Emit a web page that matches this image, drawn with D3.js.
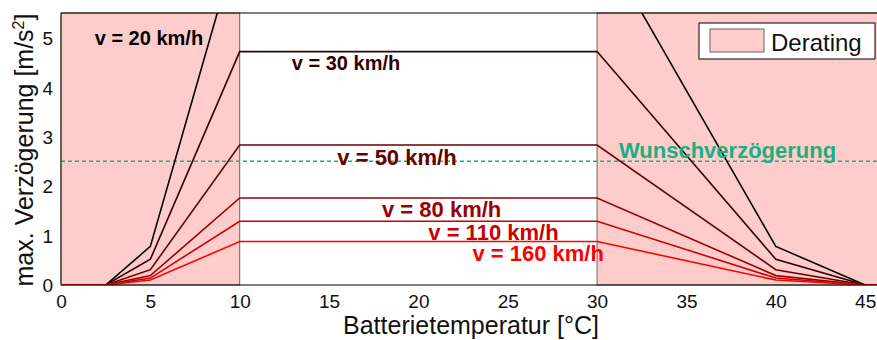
<!DOCTYPE html>
<html>
<head>
<meta charset="utf-8">
<script src="https://d3js.org/d3.v7.min.js"></script>
<style>
  body { margin: 0; background: #fff; }
  svg { display: block; font-family: "Liberation Sans", Arial, sans-serif; }
</style>
</head>
<body>
<div class="container"></div>
<script>
// battery temperature points (°C) where the curves bend
var temps = [0, 2.5, 5, 10, 30, 40, 45, 50];

// max. deceleration per speed
var speeds = ["v = 20 km/h", "v = 30 km/h", "v = 50 km/h", "v = 80 km/h", "v = 110 km/h", "v = 160 km/h"];
var dec20  = [0, 0, 0.78, 7.08, 7.08, 0.78, 0, 0];
var dec30  = [0, 0, 0.52, 4.72, 4.72, 0.52, 0, 0];
var dec50  = [0, 0, 0.31, 2.83, 2.83, 0.31, 0, 0];
var dec80  = [0, 0, 0.19, 1.76, 1.76, 0.19, 0, 0];
var dec110 = [0, 0, 0.14, 1.29, 1.29, 0.14, 0, 0];
var dec160 = [0, 0, 0.10, 0.88, 0.88, 0.10, 0, 0];
var series = [dec20, dec30, dec50, dec80, dec110, dec160];
var colors = ["#000000", "#330000", "#660000", "#990000", "#cc0000", "#ff0000"];

var wunsch = 2.5;                       // target deceleration
var derating = [[0, 10], [30, 46]];     // temperature bands with derating
var xTicks = [0, 5, 10, 15, 20, 25, 30, 35, 40, 45];
var yTicks = [0, 1, 2, 3, 4, 5];

// where the curve labels sit, in data units, and their size
var labelPos = [[4.92, 4.85], [15.95, 4.34], [18.8, 2.42], [21.3, 1.37], [24.2, 0.91], [26.7, 0.485]];
var labelSize = [20, 20, 22, 22, 22, 22];

var W = 877, H = 340;
var mLeft = 61, mTop = 13, mBottom = 285;

var x = d3.scaleLinear().domain([0, 46]).range([mLeft, mLeft + 17.87 * 46]);
var y = d3.scaleLinear().domain([0, 5.5]).range([mBottom, mTop]);

var svg = d3.select(".container").append("svg")
  .attr("width", W)
  .attr("height", H);

svg.append("clipPath").attr("id", "plotclip")
  .append("rect")
  .attr("x", mLeft).attr("y", mTop)
  .attr("width", x(46) - mLeft).attr("height", mBottom - mTop);

// derating bands
svg.selectAll("rect.band")
  .data(derating)
  .enter().append("rect")
  .attr("class", "band")
  .attr("x", function(d) { return x(d[0]); })
  .attr("y", y(5.5))
  .attr("width", function(d) { return x(d[1]) - x(d[0]); })
  .attr("height", y(0) - y(5.5))
  .style("fill", "#ffcccc")
  .style("stroke", "#666")
  .style("stroke-width", 1);

var plot = svg.append("g").attr("clip-path", "url(#plotclip)");

// desired deceleration
plot.append("line")
  .attr("x1", x(0)).attr("x2", x(46))
  .attr("y1", y(wunsch)).attr("y2", y(wunsch))
  .style("stroke", "#18b080")
  .style("stroke-width", 1.5)
  .style("stroke-dasharray", "4,3");

var line = d3.line()
  .x(function(d) { return x(d[0]); })
  .y(function(d) { return y(d[1]); });

series.forEach(function(vals, i) {
  plot.append("path")
    .datum(temps.map(function(t, j) { return [t, vals[j]]; }))
    .attr("d", line)
    .style("fill", "none")
    .style("stroke", colors[i])
    .style("stroke-width", 1.6)
    .style("stroke-linejoin", "miter");
});

// axes box: top and bottom lines, left edge
svg.append("line")
  .attr("x1", mLeft).attr("x2", W).attr("y1", mTop).attr("y2", mTop)
  .style("stroke", "#000").style("stroke-width", 1.2);
svg.append("line")
  .attr("x1", mLeft).attr("x2", W).attr("y1", mBottom).attr("y2", mBottom)
  .style("stroke", "#000").style("stroke-width", 1.2);
svg.append("line")
  .attr("x1", mLeft).attr("x2", mLeft).attr("y1", mTop).attr("y2", mBottom)
  .style("stroke", "#333").style("stroke-width", 1.2);

// tick labels (no tick marks in the original)
var xAxis = d3.axisBottom(x).tickValues(xTicks).tickFormat(d3.format("d")).tickSize(0).tickPadding(0);
var gx = svg.append("g").attr("transform", "translate(0," + mBottom + ")").call(xAxis);
gx.select(".domain").remove();
gx.selectAll("text")
  .attr("dy", null).attr("y", 23)
  .style("font-size", "19px").style("font-family", "Liberation Sans, Arial, sans-serif")
  .style("fill", "#111");

var yAxis = d3.axisLeft(y).tickValues(yTicks).tickFormat(d3.format("d")).tickSize(0).tickPadding(8);
var gy = svg.append("g").attr("transform", "translate(" + mLeft + ",0)").call(yAxis);
gy.select(".domain").remove();
gy.selectAll("text")
  .attr("dy", "0.36em")
  .style("font-size", "19px").style("font-family", "Liberation Sans, Arial, sans-serif")
  .style("fill", "#111");

// axis titles
svg.append("text")
  .attr("x", 471)
  .attr("y", 334)
  .attr("text-anchor", "middle")
  .style("font-size", "25px")
  .style("fill", "#111")
  .text("Batterietemperatur [°C]");

var yl = svg.append("text")
  .attr("transform", "translate(33,150) rotate(-90)")
  .attr("text-anchor", "middle")
  .style("font-size", "25px")
  .style("fill", "#111");
yl.append("tspan").text("max. Verzögerung [m/s");
yl.append("tspan").attr("dy", -9).style("font-size", "16px").text("2");
yl.append("tspan").attr("dy", 9).text("]");

// curve labels
svg.selectAll("text.vlab")
  .data(speeds)
  .enter().append("text")
  .attr("class", "vlab")
  .attr("x", function(d, i) { return x(labelPos[i][0]); })
  .attr("y", function(d, i) { return y(labelPos[i][1]); })
  .attr("text-anchor", "middle")
  .style("font-size", function(d, i) { return labelSize[i] + "px"; })
  .style("font-weight", "bold")
  .style("fill", function(d, i) { return colors[i]; })
  .text(function(d) { return d; });

svg.append("text")
  .attr("x", x(37.3))
  .attr("y", y(2.57))
  .attr("text-anchor", "middle")
  .style("font-size", "22px")
  .style("font-weight", "bold")
  .style("fill", "#18b080")
  .text("Wunschverzögerung");

// legend
var lg = svg.append("g").attr("transform", "translate(699,23)");
lg.append("rect")
  .attr("width", 176).attr("height", 36)
  .style("fill", "#fff").style("stroke", "#000").style("stroke-width", 1);
lg.append("rect")
  .attr("x", 11).attr("y", 6).attr("width", 54).attr("height", 23)
  .style("fill", "#ffcccc").style("stroke", "#666").style("stroke-width", 1);
lg.append("text")
  .attr("x", 72).attr("y", 28)
  .style("font-size", "24px")
  .style("fill", "#111")
  .text("Derating");
</script>
</body>
</html>
